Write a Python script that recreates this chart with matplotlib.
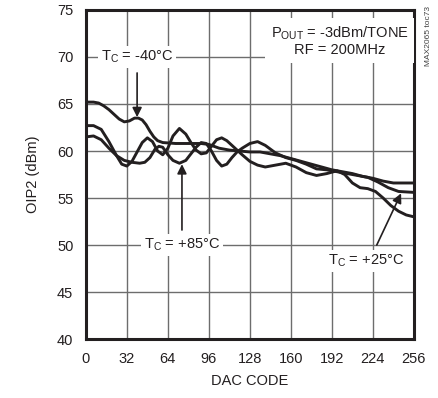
import matplotlib.pyplot as plt

plt.rcParams['font.family'] = ['Liberation Sans', 'DejaVu Sans']
plt.rcParams['mathtext.default'] = 'regular'

# DAC code / OIP2 (dBm)
code_m40 = [0, 6, 10, 14, 18, 22, 26, 30, 34, 38, 41, 44, 47, 50, 53, 56, 60, 70, 80, 90, 96,
            104, 112, 120, 128, 136, 144, 152, 160, 168, 176, 184, 192, 200, 208, 216, 224,
            232, 240, 248, 256]
oip2_m40 = [65.2, 65.2, 65.1, 64.8, 64.4, 63.9, 63.4, 63.1, 63.2, 63.5, 63.5, 63.3, 62.8, 62.1,
            61.5, 61.1, 60.9, 60.8, 60.8, 60.8, 60.7, 60.3, 60.1, 60.0, 59.9, 59.9, 59.7, 59.5,
            59.2, 58.9, 58.6, 58.3, 58.0, 57.8, 57.6, 57.3, 57.1, 56.8, 56.6, 56.6, 56.6]

code_p85 = [0, 6, 12, 18, 24, 30, 36, 42, 46, 50, 54, 57, 60, 64, 68, 73, 78, 82, 86, 90, 94,
            98, 102, 106, 110, 114, 118, 122, 128, 134, 140, 148, 156, 164, 172, 180, 188, 196,
            204, 212, 220, 228, 236, 244, 256]
oip2_p85 = [61.5, 61.6, 61.2, 60.3, 59.5, 59.0, 58.8, 58.7, 58.8, 59.3, 60.2, 60.5, 60.4, 59.6,
            59.0, 58.7, 59.0, 59.7, 60.4, 60.9, 60.8, 60.0, 59.0, 58.4, 58.6, 59.3, 59.9, 60.3,
            60.8, 61.0, 60.6, 59.8, 59.3, 59.0, 58.6, 58.1, 58.0, 57.8, 57.6, 57.4, 57.2, 56.7,
            56.1, 55.7, 55.6]

code_p25 = [0, 6, 12, 18, 24, 28, 32, 36, 40, 44, 48, 52, 56, 60, 64, 68, 73, 78, 82, 86, 90,
            94, 98, 102, 106, 110, 114, 118, 122, 128, 134, 140, 148, 156, 164, 172, 180, 188,
            196, 202, 208, 214, 220, 226, 232, 238, 244, 250, 256]
oip2_p25 = [62.7, 62.7, 62.3, 61.0, 59.5, 58.6, 58.4, 58.9, 59.9, 60.9, 61.4, 61.0, 60.0, 59.6,
            60.3, 61.6, 62.4, 61.8, 60.9, 60.1, 59.7, 59.8, 60.5, 61.2, 61.4, 61.1, 60.6, 60.1,
            59.6, 58.9, 58.5, 58.3, 58.5, 58.7, 58.3, 57.7, 57.4, 57.6, 57.9, 57.5, 56.6, 56.1,
            56.0, 55.7, 55.0, 54.2, 53.6, 53.2, 53.0]

xticks = [0, 32, 64, 96, 128, 160, 192, 224, 256]
yticks = [40, 45, 50, 55, 60, 65, 70, 75]

fig = plt.figure(figsize=(4.38, 3.98), dpi=100)
ax = fig.add_axes([0.196, 0.148, 0.749, 0.827])

ink = '#231f20'
for c, v in [(code_m40, oip2_m40), (code_p85, oip2_p85), (code_p25, oip2_p25)]:
    ax.plot(c, v, color=ink, lw=2.1, solid_joinstyle='round', solid_capstyle='round', zorder=3)

ax.set_xlim(0, 256)
ax.set_ylim(40, 75)
ax.set_xticks(xticks)
ax.set_yticks(yticks)
ax.tick_params(length=0, labelsize=10.5, pad=9, colors=ink)
ax.grid(True, color='#6d6d6d', lw=1.0)
ax.set_axisbelow(True)
for s in ax.spines.values():
    s.set_linewidth(2.2)
    s.set_color(ink)

ax.set_xlabel('DAC CODE', fontsize=10.5, color=ink, labelpad=6)
ax.set_ylabel('OIP2 (dBm)', fontsize=10.5, color=ink, labelpad=12)

box = dict(facecolor='white', edgecolor='none', pad=2)
arrow = dict(arrowstyle='-|>', color=ink, lw=1.2, mutation_scale=14, shrinkA=0, shrinkB=0)

ax.text(40, 70, 'T$_C$ = -40°C', fontsize=10.5, ha='center', va='center', color=ink,
        bbox=box, zorder=4)
ax.annotate('', xy=(40, 63.6), xytext=(40, 68.3), arrowprops=arrow, zorder=5)

ax.text(75, 50, 'T$_C$ = +85°C', fontsize=10.5, ha='center', va='center', color=ink,
        bbox=box, zorder=4)
ax.annotate('', xy=(75, 58.6), xytext=(75, 51.6), arrowprops=arrow, zorder=5)

ax.text(219, 48.3, 'T$_C$ = +25°C', fontsize=10.5, ha='center', va='center', color=ink,
        bbox=box, zorder=4)
ax.annotate('', xy=(246, 55.5), xytext=(227, 50.0), arrowprops=arrow, zorder=5)

ax.text(198, 71.7, 'P$_{OUT}$ = -3dBm/TONE\nRF = 200MHz', fontsize=10.5, ha='center',
        va='center', color=ink, linespacing=1.05,
        bbox=dict(facecolor='white', edgecolor='none', pad=4), zorder=4)

fig.text(0.978, 0.985, 'MAX2065 toc73', fontsize=6, rotation=90, ha='center', va='top',
         color='#444444')

fig.savefig('out.png', dpi=100)
